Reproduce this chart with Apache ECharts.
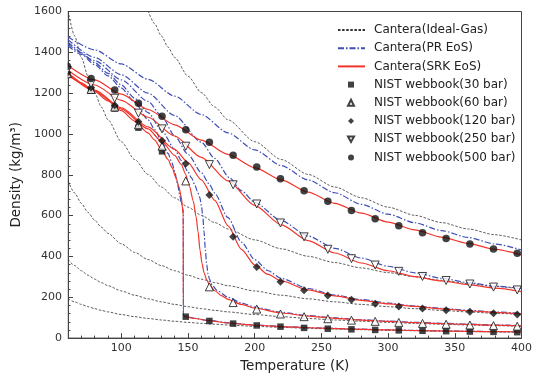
<!DOCTYPE html>
<html><head><meta charset="utf-8">
<script src="https://cdn.jsdelivr.net/npm/echarts@6/dist/echarts.min.js"></script>
<style>html,body{margin:0;padding:0;background:#fff}#c{width:540px;height:378px}</style>
</head><body><div id="c"></div>
<script>
// ---- Ideal gas (Cantera) ----
const T_ig = [60,65,70,75,80,85,90,100,110,120,130,140,150,160,170,180,200,220,240,260,280,300,320,340,360,380,400];
const ig30 = [192.5,177.6,165,154,144.3,135.8,128.3,115.5,105,96.2,88.8,82.5,77,72.2,67.9,64.2,57.7,52.5,48.1,44.4,41.2,38.5,36.1,34,32.1,30.4,28.9];
const ig60 = [385,355.3,330,308,288.7,271.7,256.6,231,210,192.5,177.6,165,154,144.3,135.8,128.3,115.5,105,96.2,88.8,82.5,77,72.2,67.9,64.2,60.8,57.7];
const ig120 = [770,710.6,660,616,577.4,543.4,513.2,462,420,384.9,355.3,330,307.9,288.7,271.7,256.6,230.9,210,192.5,177.6,165,154,144.3,135.8,128.3,121.5,115.5];
const ig250 = [1603.7,1480.4,1374.6,1283,1202.8,1132,1069.2,962.2,874.8,801.9,740.2,687.3,641.5,601.4,566,534.6,481.1,437.4,400.9,370.1,343.7,320.7,300.7,283,267.3,253.2,240.6];
const T_ig500 = [120,125,130,135,140,150,160,170,180,200,220,240,260,280,300,320,340,360,380,400];
const ig500 = [1603.7,1539.6,1480.4,1425.5,1374.6,1283,1202.8,1132,1069.2,962.2,874.8,801.9,740.2,687.3,641.5,601.4,566,534.6,506.4,481.1];

// ---- Peng-Robinson (Cantera) ----
const T_pr30 = [60,70,80,90,100,110,120,125,130,135,138,140,142,143.8,145,146.4,146.5,148,155,165,180,200,225,250,275,300,325,350,375,400];
const pr30 = [1432,1390,1340,1285,1225,1155,1070,1022,968,905,858,815,760,700,662,625,112,107,97,87,75,64,55.5,49.5,44.5,40.5,37.3,34.6,32.3,30.3];
const T_pr60 = [60,70,80,90,100,110,120,130,140,145,150,152.5,155,157,158.8,160,161,162,163,164,165,166,168,172,180,190,200,220,240,260,280,300,320,340,360,380,400];
const pr60 = [1440,1398,1350,1297,1240,1175,1105,1020,925,870,815,786,752,720,689,650,600,520,430,360,315,290,260,232,200,172,152,126,110,99,90,83,77.5,72.5,68.3,64.5,61];
const T_pr120 = [60,80,100,120,130,140,150,160,166,170,180,190,200,210,220,240,260,280,300,320,340,360,380,400];
const pr120 = [1450,1360,1265,1160,1090,990,900,810,754,710,590,470,385,330,292,243,211,189,171,157,146,136,128,121];
const T_pr250 = [60,80,100,120,140,160,170,181,190,200,220,240,260,280,300,320,340,360,380,400];
const pr250 = [1462,1375,1290,1200,1090,960,880,786,722,665,575,500,440,392,352,320,293,272,255,242];
const T_pr500 = [60,80,100,120,140,160,180,200,220,240,260,280,300,320,340,360,380,400];
const pr500 = [1476,1412,1343,1268,1185,1095,1005,922,845,775,712,655,607,565,527,493,461,432];

// ---- SRK (Cantera) ----
const T_srk30 = [60,70,80,90,100,110,120,125,130,135,138,141,143,145,145.8,146.4,146.5,148,155,165,180,200,225,250,275,300,325,350,375,400];
const srk30 = [1290,1250,1207,1162,1114,1063,1005,970,925,875,835,785,745,690,640,600,110,105,96,86,74,63,55,49,44,40,37,34.3,32,30];
const T_srk60 = [60,80,100,120,130,140,145,148,151,154,156,157.5,159,160.5,162,164,166,170,175,180,190,200,220,240,260,280,300,320,340,360,380,400];
const srk60 = [1295,1210,1122,1025,965,895,850,805,745,670,595,520,430,365,320,285,262,232,208,190,165,147,123,108,97,88.5,81.5,76,71.2,67,63.3,60];
const T_srk120 = [60,80,100,120,140,150,160,170,180,190,200,210,220,240,260,280,300,320,340,360,380,400];
const srk120 = [1300,1215,1128,1035,925,860,775,675,550,435,358,312,280,236,207,185,168,155,143.5,134,126,118];
const T_srk250 = [60,80,100,120,140,160,180,200,220,240,260,280,300,320,340,360,380,400];
const srk250 = [1312,1240,1165,1082,990,885,770,650,555,478,417,368,330,301,280,262,245,228];
const T_srk500 = [60,80,100,120,140,160,180,200,220,240,260,280,300,320,340,360,380,400];
const srk500 = [1335,1265,1195,1120,1045,970,900,835,775,715,660,612,568,530,495,464,435,408];

// ---- NIST webbook ----
const T_nist = [59.5,77.3,95,112.8,130.5,148.3,166,183.8,201.5,219.3,237,254.8,272.5,290.3,308,325.8,343.5,361.3,379,396.8];
const nist30 = [1290,1212,1125,1031,915,105,84,71,62,56,50,46,43,40,38,36,34,32,30.5,29];
const nist60 = [1295,1218,1132,1045,940,770,251,174,142,118,105,95,88,82,77,72,68,64,61,58];
const nist120 = [1300,1228,1141,1060,967,854,701,496,348,276,235,209,188,168,155,145,137,129,122,116];
const nist250 = [1312,1246,1175,1102,1025,940,850,751,657,564,496,435,389,358,327,302,282,265,250,236];
const nist500 = [1332,1272,1216,1150,1087,1021,959,896,838,781,722,670,625,585,550,516,488,461,437,416];

const xMajor = [100,150,200,250,300,350,400];

const pair = (T, v) => T.map((t, i) => [t, v[i]]);
const FONT = 'DejaVu Sans';
const IG = 'Cantera(Ideal-Gas)', PR = 'Cantera(PR EoS)', SRK = 'Cantera(SRK EoS)';
const N30 = 'NIST webbook(30 bar)', N60 = 'NIST webbook(60 bar)', N120 = 'NIST webbook(120 bar)', N250 = 'NIST webbook(250 bar)', N500 = 'NIST webbook(500 bar)';
const BLUE = '#3f4fb4', RED = '#f0362c';

function lineSeries(name, T, v, style) {
  return { type: 'line', name, data: pair(T, v), showSymbol: false, symbol: 'none',
    smooth: 0.25, smoothMonotone: 'x', clip: true, lineStyle: style, itemStyle: { color: style.color },
    emphasis: { disabled: true }, animation: false };
}
const igStyle = { color: '#333', width: 0.8, type: [2.5, 1.6] };
const prStyle = { color: BLUE, width: 1.2, type: [6, 2, 1.5, 2] };
const srkStyle = { color: RED, width: 1.2, type: 'solid' };

const series = [
  lineSeries(IG, T_ig, ig30, igStyle),
  lineSeries(IG, T_ig, ig60, igStyle),
  lineSeries(IG, T_ig, ig120, igStyle),
  lineSeries(IG, T_ig, ig250, igStyle),
  lineSeries(IG, T_ig500, ig500, igStyle),
  lineSeries(PR, T_pr30, pr30, prStyle),
  lineSeries(PR, T_pr60, pr60, prStyle),
  lineSeries(PR, T_pr120, pr120, prStyle),
  lineSeries(PR, T_pr250, pr250, prStyle),
  lineSeries(PR, T_pr500, pr500, prStyle),
  lineSeries(SRK, T_srk30, srk30, srkStyle),
  lineSeries(SRK, T_srk60, srk60, srkStyle),
  lineSeries(SRK, T_srk120, srk120, srkStyle),
  lineSeries(SRK, T_srk250, srk250, srkStyle),
  lineSeries(SRK, T_srk500, srk500, srkStyle),
];
function scat(name, v, symbol, size, hollow, rot) {
  return { type: 'scatter', name, data: pair(T_nist, v), symbol, symbolSize: size, symbolRotate: rot || 0,
    clip: false, z: 5, animation: false, emphasis: { disabled: true },
    itemStyle: hollow ? { color: '#fff', borderColor: '#111', borderWidth: 1 } : { color: '#111' } };
}
series.push(scat(N30, nist30, 'rect', 6.5, false));
series.push(scat(N60, nist60, 'triangle', 8, true));
series.push(scat(N120, nist120, 'diamond', 8, false));
series.push(scat(N250, nist250, 'triangle', 8, true, 180));
series.push(scat(N500, nist500, 'circle', 7.5, false));

const hideSym = { color: 'rgba(0,0,0,0)', borderWidth: 0, opacity: 0 };
const legText = { fontFamily: FONT, fontSize: 12, color: '#222', lineHeight: 14 };

const chart = echarts.init(document.getElementById('c'), null, { renderer: 'canvas' });
chart.setOption({
  animation: false,
  backgroundColor: '#fff',
  grid: { left: 68, right: 18.5, top: 11.5, bottom: 35.5, show: true, borderColor: '#444', borderWidth: 1, backgroundColor: 'transparent' },
  legend: [{
    orient: 'vertical', left: 337, top: 23, padding: 0, itemWidth: 27, itemHeight: 8, itemGap: 4.2,
    data: [IG, PR, SRK].map(n => ({ name: n, itemStyle: hideSym })),
    textStyle: Object.assign({ padding: [0, 0, 0, 4] }, legText),
    selectedMode: false
  }, {
    orient: 'vertical', left: 347, top: 77.6, padding: 0, itemWidth: 6, itemHeight: 6, itemGap: 4.2,
    data: [N30, N60, N120, { name: N250, icon: 'path://M0,0 L10,0 L5,9 Z' }, N500],
    textStyle: Object.assign({ padding: [0, 0, 0, 15] }, legText),
    selectedMode: false
  }],
  xAxis: [{
    type: 'value', min: 60, max: 400, interval: 10,
    name: 'Temperature (K)', nameLocation: 'middle', nameGap: 19,
    nameTextStyle: { fontFamily: FONT, fontSize: 13.5, color: '#222', verticalAlign: 'top' },
    axisLine: { show: true, lineStyle: { color: '#444', width: 1 } },
    axisTick: { show: true, inside: true, length: 5, customValues: xMajor, lineStyle: { color: '#444' } },
    axisLabel: { customValues: xMajor, formatter: v => (v % 50 === 0 && v >= 100) ? String(v) : '', fontFamily: FONT, fontSize: 11, color: '#333', margin: 5 },
    splitLine: { show: false }
  }, {
    type: 'value', min: 60, max: 400, interval: 10, position: 'bottom',
    axisLine: { show: false }, axisLabel: { show: false }, splitLine: { show: false },
    axisTick: { show: true, inside: true, length: 2.5, lineStyle: { color: '#444' } }
  }],
  yAxis: {
    type: 'value', min: 0, max: 1600, interval: 200,
    name: 'Density (kg/m³)', nameLocation: 'middle', nameGap: 42, nameRotate: 90,
    nameTextStyle: { fontFamily: FONT, fontSize: 13.5, color: '#222' },
    axisLine: { show: true, lineStyle: { color: '#444', width: 1 } },
    axisTick: { show: true, inside: true, length: 5, lineStyle: { color: '#444' } },
    minorTick: { show: true, splitNumber: 5, length: 2.5, lineStyle: { color: '#444' } },
    axisLabel: { formatter: v => String(v), fontFamily: FONT, fontSize: 11, color: '#333', margin: 6 },
    splitLine: { show: false }, minorSplitLine: { show: false }
  },
  graphic: [{ type: 'rect', shape: { x: 62.8, y: 4, width: 4.8, height: 342 }, style: { fill: '#fff' }, z: 100, silent: true }],
  series
});
</script></body></html>
